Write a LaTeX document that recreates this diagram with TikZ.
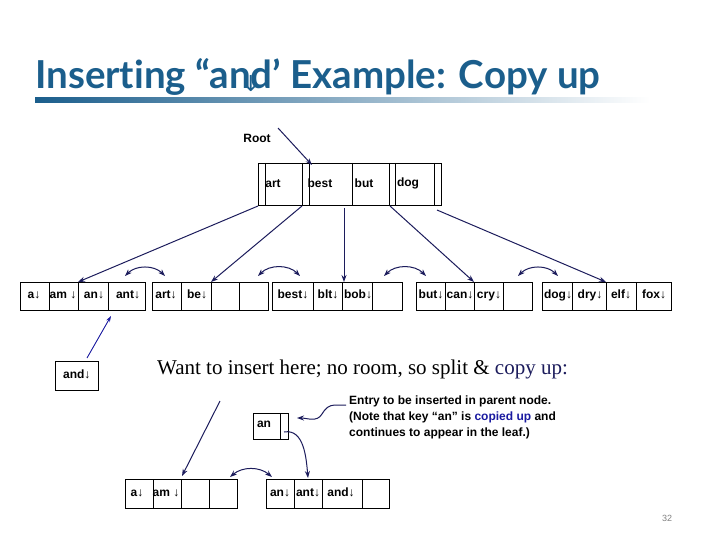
\documentclass[tikz,border=0pt]{standalone}
\usepackage{fontspec}
\setmainfont{Liberation Sans}
\newfontfamily\titlefont[Ligatures=NoCommon]{Lato}
\newfontfamily\serif{Liberation Serif}
\newfontfamily\arr{DejaVu Sans}
\usetikzlibrary{arrows.meta,decorations.pathmorphing}
\definecolor{titleblue}{HTML}{1B5E8C}
\definecolor{navy}{HTML}{1C1C5C}
\definecolor{textblue}{HTML}{1A1AA0}
\begin{document}
\begin{tikzpicture}[x=1pt,y=-1pt,
  cell/.style={draw=black,line width=0.5pt,inner sep=0pt},
  key/.style={font=\fontsize{12}{13}\selectfont\bfseries,inner sep=0pt,text height=8.5pt,text depth=2.5pt},
  ptr/.style={-{Stealth[length=7pt,width=5pt]},navy,line width=1pt},
  dbl/.style={{Stealth[length=7pt,width=5pt]}-{Stealth[length=7pt,width=5pt]},navy,line width=1pt}]
\useasboundingbox (0,0) rectangle (720,540);
% title
\node[anchor=base west,text=titleblue,font=\titlefont\bfseries\fontsize{38.5}{42}\selectfont,inner sep=0pt] (title) at (35,89)
 {Inserting “an\makebox[0pt]{\raisebox{-3pt}{\arr\fontsize{22}{22}\selectfont\mdseries ↓}}d’ Example: Copy up};
\shade[left color=titleblue,right color=white] (35,98) rectangle (650,103);
% root
\node[cell,minimum width=183pt,minimum height=42pt,anchor=north west] (root) at (258,163) {};
\foreach \x in {265,302,309,352,389,395,434} \draw (\x,163) -- (\x,205);
\node[key] (k1) at (273,185) {art};
\node[key] (k2) at (320,185) {best};
\node[key] (k3) at (364,185) {but};
\node[key] (k4) at (408,184) {dog};
\node[key] (rootlbl) at (257,140) {Root};
\coordinate (rs) at (278,128);
\coordinate (re) at (312,165);
\draw[ptr] (rs) -- (re);
% leaves
\newcommand\leaf[6]{% name, left, right, d1,d2,d3
  \node[cell,minimum width=#3pt-#2pt,minimum height=28pt,anchor=north west] (#1) at (#2,282) {};
  \draw (#4,282) -- (#4,310) (#5,282) -- (#5,310) (#6,282) -- (#6,310);}
\leaf{L1}{20}{145}{49}{78}{108}
\leaf{L2}{152}{268}{181}{211}{239}
\leaf{L3}{272}{402}{313}{342}{372}
\leaf{L4}{416}{532}{445}{474}{503}
\leaf{L5}{542}{671}{572}{606}{636}
\foreach \t/\x in {a↓/34,am ↓/63,an↓/94,ant↓/128,art↓/166,be↓/197,best↓/293,blt↓/328,bob↓/358,but↓/431,can↓/460,cry↓/489,dog↓/558,dry↓/590,elf↓/621,fox↓/654}
  \node[key] at (\x,295) {\t};
% pointers
\coordinate (p0) at (258,206); \coordinate (c0) at (78,282);
\coordinate (p1) at (302,206); \coordinate (c1) at (211,282);
\coordinate (p2) at (344,208); \coordinate (c2) at (344,282);
\coordinate (p3) at (390,206); \coordinate (c3) at (474,282);
\coordinate (p4) at (437,210); \coordinate (c4) at (606,282);
\foreach \i in {0,...,4} \draw[ptr] (p\i) -- (c\i);
% sibling links
\foreach \a/\b in {125/165,258/300,384/426,518/558}
  \draw[dbl] (\a,276) to[bend left=45] (\b,276);
% and box
\node[cell,minimum width=43pt,minimum height=29pt,anchor=north west] (andbox) at (55,361) {};
\node[key] at (andbox.center) {and↓};
\coordinate (andtip) at (111,316);
\draw[-{Stealth[length=6pt,width=4pt]},textblue,line width=0.9pt] (87,358) -- (andtip);
\node[anchor=base west,font=\serif\fontsize{21}{24}\selectfont,inner sep=0pt] (want) at (157,374)
  {Want to insert here; no room, so split \& \textcolor{navy}{copy up:}};
% bottom
\node[cell,minimum width=35pt,minimum height=26pt,anchor=north west] (anbox) at (253,413) {};
\draw (280,413) -- (280,439);
\node[key] at (264,424) {an};
\node[cell,minimum width=112pt,minimum height=29pt,anchor=north west] (BL) at (125,479) {};
\foreach \x in {153,181,209} \draw (\x,479) -- (\x,508);
\node[key] at (137,493) {a↓};
\node[key] at (166,493) {am ↓};
\node[cell,minimum width=123pt,minimum height=29pt,anchor=north west] (BR) at (266,479) {};
\foreach \x in {294,322,362} \draw (\x,479) -- (\x,508);
\node[key] at (280,493) {an↓};
\node[key] at (308,493) {ant↓};
\node[key] at (341,493) {and↓};
\coordinate (bs) at (220,401); \coordinate (be) at (182,476);
\draw[ptr] (bs) -- (be);
\coordinate (ap) at (284,432); \coordinate (ae) at (308,478);
\draw[ptr] (ap) to[out=10,in=95] (ae);
\draw[dbl] (230,477) to[bend left=40] (272,477);
\coordinate (sq) at (346,405); \coordinate (sqe) at (297,418);
\draw[ptr] (sq) -- (335,405) to[out=180,in=60] (322,414) to[out=240,in=0] (sqe);
\node[anchor=north west,align=left,font=\fontsize{12}{16}\selectfont\bfseries,inner sep=0pt] (note) at (349,396)
  {Entry to be inserted in parent node.\\(Note that key “an” is \textcolor{textblue}{copied up} and\\ continues to appear in the leaf.)};
\node[text=gray,font=\fontsize{9}{10}\selectfont] (pg) at (667,518) {32};
\end{tikzpicture}
\end{document}
